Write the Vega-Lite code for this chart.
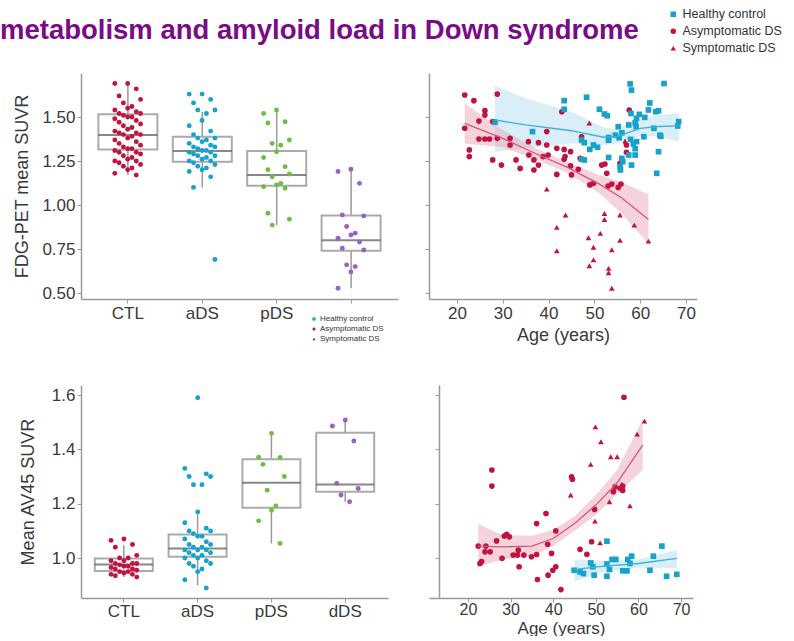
{
  "$schema": "https://vega.github.io/schema/vega-lite/v6.json",
  "background": "white",
  "padding": {"left": 0, "top": 8, "right": 0, "bottom": 0},
  "bounds": "flush",
  "columns": 2,
  "spacing": {"row": 86, "column": 31},
  "config": {
    "font": "Liberation Sans",
    "view": {"stroke": null},
    "axis": {"domainColor": "#9a9a9a", "domainWidth": 1.5, "tickColor": "#9a9a9a", "tickWidth": 1, "tickSize": 4, "grid": false, "labelColor": "#3a3a3a", "titleColor": "#3a3a3a", "labelFontSize": 17, "titleFontSize": 18, "titleFontWeight": "normal", "labelPadding": 2, "labelFont": "Liberation Sans", "titleFont": "Liberation Sans"},
    "legend": {"labelFont": "Liberation Sans", "labelColor": "#333333"}
  },
  "resolve": {
    "scale": {"color": "independent", "shape": "independent", "fill": "independent", "stroke": "independent", "x": "independent", "y": "independent"},
    "legend": {"color": "independent", "shape": "independent"}
  },
  "concat": [
    {
      "width": 317,
      "height": 226,
      "title": {"text": "metabolism and amyloid load in Down syndrome", "anchor": "start", "frame": "group", "dx": -81, "offset": 7, "baseline": "alphabetic", "fontSize": 27.5, "fontWeight": "bold", "color": "#7b0a86", "font": "Liberation Sans"},
      "layer": [
        {
          "data": {"name": "fb"},
          "mark": {"type": "rule", "color": "#9a9a9a", "strokeWidth": 1.5},
          "encoding": {
            "x": {"field": "g", "type": "nominal", "title": null, "scale": {"domain": ["CTL", "aDS", "pDS", "dDS"], "paddingInner": 0, "paddingOuter": 0.13}, "axis": {"labelAngle": 0, "labelExpr": "datum.value == 'dDS' ? '' : datum.value"}},
            "y": {"field": "lo", "type": "quantitative", "title": "FDG-PET mean SUVR", "scale": {"domain": [0.466, 1.75], "nice": false, "zero": false}, "axis": {"values": [0.5, 0.75, 1, 1.25, 1.5], "format": ".2f", "titlePadding": 10}},
            "y2": {"field": "hi"}
          }
        },
        {
          "data": {"name": "fb"},
          "mark": {"type": "bar", "width": 59, "fill": "white", "stroke": "#ababab", "strokeWidth": 2},
          "encoding": {
            "x": {"field": "g", "type": "nominal", "title": null},
            "y": {"field": "q1", "type": "quantitative", "title": "FDG-PET mean SUVR"},
            "y2": {"field": "q3"}
          }
        },
        {
          "data": {"name": "fb"},
          "mark": {"type": "tick", "color": "#555555", "thickness": 2, "size": 59},
          "encoding": {
            "x": {"field": "g", "type": "nominal", "title": null},
            "y": {"field": "md", "type": "quantitative", "title": "FDG-PET mean SUVR"}
          }
        },
        {
          "data": {"name": "fp"},
          "mark": {"type": "point", "filled": true, "size": 24, "opacity": 1},
          "encoding": {
            "x": {"field": "g", "type": "nominal", "title": null},
            "xOffset": {"field": "k", "type": "ordinal", "scale": {"range": [22, 52]}},
            "y": {"field": "v", "type": "quantitative", "title": "FDG-PET mean SUVR"},
            "color": {"field": "g", "type": "nominal", "scale": {"domain": ["CTL", "aDS", "pDS", "dDS"], "range": ["#c2123f", "#16a2cc", "#6fbe44", "#9a5fc2"]}, "legend": null}
          }
        }
      ]
    },
    {
      "width": 268,
      "height": 226,
      "layer": [
        {
          "data": {"name": "ff"},
          "mark": {"type": "area", "opacity": 0.5},
          "encoding": {
            "x": {"field": "age", "type": "quantitative", "title": "Age (years)", "scale": {"domain": [13.9, 72.4], "nice": false, "zero": false}, "axis": {"values": [20, 30, 40, 50, 60, 70], "titlePadding": 5}},
            "y": {"field": "lo", "type": "quantitative", "title": null, "scale": {"domain": [0.466, 1.75], "nice": false, "zero": false}, "axis": {"values": [0.5, 0.75, 1, 1.25, 1.5], "labels": false}},
            "y2": {"field": "hi"},
            "fill": {"field": "s", "type": "nominal", "scale": {"domain": ["HC", "A"], "range": ["#b3ddee", "#e9a7b9"]}, "legend": null}
          }
        },
        {
          "data": {"name": "fa"},
          "mark": {"type": "point", "filled": true, "size": 32, "opacity": 1},
          "encoding": {
            "x": {"field": "age", "type": "quantitative", "title": "Age (years)"},
            "y": {"field": "v", "type": "quantitative", "title": null},
            "color": {"field": "s", "type": "nominal", "scale": {"domain": ["HC", "A", "S"], "range": ["#16a2cc", "#c2123f", "#c2123f"]}, "legend": {"orient": "none", "legendX": 238, "legendY": -65, "title": null, "labelFontSize": 12.5, "symbolSize": 30, "rowPadding": 4, "labelOffset": 3, "padding": 0, "labelExpr": "datum.value == 'HC' ? 'Healthy control' : datum.value == 'A' ? 'Asymptomatic DS' : 'Symptomatic DS'"}},
            "shape": {"field": "s", "type": "nominal", "scale": {"domain": ["HC", "A", "S"], "range": ["square", "circle", "triangle-up"]}, "legend": {"orient": "none", "legendX": 238, "legendY": -65, "title": null, "labelFontSize": 12.5, "symbolSize": 30, "rowPadding": 4, "labelOffset": 3, "padding": 0, "labelExpr": "datum.value == 'HC' ? 'Healthy control' : datum.value == 'A' ? 'Asymptomatic DS' : 'Symptomatic DS'"}}
          }
        },
        {
          "data": {"name": "ff"},
          "mark": {"type": "line", "strokeWidth": 1.3},
          "encoding": {
            "x": {"field": "age", "type": "quantitative", "title": "Age (years)"},
            "y": {"field": "fit", "type": "quantitative", "title": null},
            "stroke": {"field": "s", "type": "nominal", "scale": {"domain": ["HC", "A"], "range": ["#3cb2d8", "#d4587a"]}, "legend": null}
          }
        }
      ]
    },
    {
      "width": 307,
      "height": 213,
      "layer": [
        {
          "data": {"name": "ab"},
          "mark": {"type": "rule", "color": "#9a9a9a", "strokeWidth": 1.5},
          "encoding": {
            "x": {"field": "g", "type": "nominal", "title": null, "scale": {"domain": ["CTL", "aDS", "pDS", "dDS"], "paddingInner": 0, "paddingOuter": 0.08}, "axis": {"labelAngle": 0, "labelPadding": 1}},
            "y": {"field": "lo", "type": "quantitative", "title": "Mean AV45 SUVR", "scale": {"domain": [0.853, 1.637], "nice": false, "zero": false}, "axis": {"values": [1.0, 1.2, 1.4, 1.6], "format": ".1f", "titlePadding": 14}},
            "y2": {"field": "hi"}
          }
        },
        {
          "data": {"name": "ab"},
          "mark": {"type": "bar", "width": 58, "fill": "white", "stroke": "#ababab", "strokeWidth": 2},
          "encoding": {
            "x": {"field": "g", "type": "nominal", "title": null},
            "y": {"field": "q1", "type": "quantitative", "title": "Mean AV45 SUVR"},
            "y2": {"field": "q3"}
          }
        },
        {
          "data": {"name": "ab"},
          "mark": {"type": "tick", "color": "#555555", "thickness": 2, "size": 58},
          "encoding": {
            "x": {"field": "g", "type": "nominal", "title": null},
            "y": {"field": "md", "type": "quantitative", "title": "Mean AV45 SUVR"}
          }
        },
        {
          "data": {"name": "ap"},
          "mark": {"type": "point", "filled": true, "size": 24, "opacity": 1},
          "encoding": {
            "x": {"field": "g", "type": "nominal", "title": null},
            "xOffset": {"field": "k", "type": "ordinal", "scale": {"range": [22, 52]}},
            "y": {"field": "v", "type": "quantitative", "title": "Mean AV45 SUVR"},
            "color": {"field": "g", "type": "nominal", "scale": {"domain": ["CTL", "aDS", "pDS", "dDS"], "range": ["#c2123f", "#16a2cc", "#6fbe44", "#9a5fc2"]}, "legend": null}
          }
        }
      ]
    },
    {
      "width": 264,
      "height": 213,
      "layer": [
        {
          "data": {"name": "af"},
          "mark": {"type": "area", "opacity": 0.5},
          "encoding": {
            "x": {"field": "age", "type": "quantitative", "title": "Age (years)", "scale": {"domain": [10.85, 72.8], "nice": false, "zero": false}, "axis": {"values": [20, 30, 40, 50, 60, 70], "labelFontSize": 16, "labelPadding": -1, "titlePadding": 3, "titleFontSize": 17}},
            "y": {"field": "lo", "type": "quantitative", "title": null, "scale": {"domain": [0.853, 1.637], "nice": false, "zero": false}, "axis": {"values": [1.0, 1.2, 1.4, 1.6], "labels": false, "offset": -10}},
            "y2": {"field": "hi"},
            "fill": {"field": "s", "type": "nominal", "scale": {"domain": ["HC", "A"], "range": ["#b3ddee", "#e9a7b9"]}, "legend": null}
          }
        },
        {
          "data": {"name": "aa"},
          "mark": {"type": "point", "filled": true, "size": 32, "opacity": 1},
          "encoding": {
            "x": {"field": "age", "type": "quantitative", "title": "Age (years)"},
            "y": {"field": "v", "type": "quantitative", "title": null},
            "color": {"field": "s", "type": "nominal", "scale": {"domain": ["HC", "A", "S"], "range": ["#16a2cc", "#c2123f", "#c2123f"]}, "legend": {"orient": "none", "legendX": -119, "legendY": -70, "title": null, "labelFontSize": 8, "symbolSize": 10, "rowPadding": 2, "labelOffset": 2, "padding": 0, "labelExpr": "datum.value == 'HC' ? 'Healthy control' : datum.value == 'A' ? 'Asymptomatic DS' : 'Symptomatic DS'"}},
            "shape": {"field": "s", "type": "nominal", "scale": {"domain": ["HC", "A", "S"], "range": ["square", "circle", "triangle-up"]}, "legend": {"orient": "none", "legendX": -119, "legendY": -70, "title": null, "labelFontSize": 8, "symbolSize": 10, "rowPadding": 2, "labelOffset": 2, "padding": 0, "labelExpr": "datum.value == 'HC' ? 'Healthy control' : datum.value == 'A' ? 'Asymptomatic DS' : 'Symptomatic DS'"}}
          }
        },
        {
          "data": {"name": "af"},
          "mark": {"type": "line", "strokeWidth": 1.3},
          "encoding": {
            "x": {"field": "age", "type": "quantitative", "title": "Age (years)"},
            "y": {"field": "fit", "type": "quantitative", "title": null},
            "stroke": {"field": "s", "type": "nominal", "scale": {"domain": ["HC", "A"], "range": ["#3cb2d8", "#d4587a"]}, "legend": null}
          }
        }
      ]
    }
  ],
  "datasets": {
    "fb": [
      {"g": "CTL", "lo": 1.17, "q1": 1.316, "md": 1.398, "q3": 1.515, "hi": 1.69},
      {"g": "aDS", "lo": 1.10, "q1": 1.246, "md": 1.307, "q3": 1.388, "hi": 1.53},
      {"g": "pDS", "lo": 0.886, "q1": 1.11, "md": 1.17, "q3": 1.307, "hi": 1.54},
      {"g": "dDS", "lo": 0.527, "q1": 0.74, "md": 0.80, "q3": 0.94, "hi": 1.20}
    ],
    "ab": [
      {"g": "CTL", "lo": 0.93, "q1": 0.952, "md": 0.976, "q3": 0.998, "hi": 1.047},
      {"g": "aDS", "lo": 0.90, "q1": 1.005, "md": 1.035, "q3": 1.087, "hi": 1.165},
      {"g": "pDS", "lo": 1.054, "q1": 1.185, "md": 1.277, "q3": 1.364, "hi": 1.459},
      {"g": "dDS", "lo": 1.207, "q1": 1.244, "md": 1.271, "q3": 1.461, "hi": 1.508}
    ],
    "fp": [
      {"g": "CTL", "v": 1.69, "k": 3}, {"g": "CTL", "v": 1.69, "k": 0}, {"g": "CTL", "v": 1.66, "k": 5}, {"g": "CTL", "v": 1.62, "k": 1}, {"g": "CTL", "v": 1.60, "k": 6}, {"g": "CTL", "v": 1.58, "k": 2}, {"g": "CTL", "v": 1.56, "k": 4},
      {"g": "CTL", "v": 1.55, "k": 3}, {"g": "CTL", "v": 1.54, "k": 0}, {"g": "CTL", "v": 1.53, "k": 5}, {"g": "CTL", "v": 1.52, "k": 1}, {"g": "CTL", "v": 1.52, "k": 6}, {"g": "CTL", "v": 1.51, "k": 2}, {"g": "CTL", "v": 1.50, "k": 4},
      {"g": "CTL", "v": 1.50, "k": 3}, {"g": "CTL", "v": 1.49, "k": 0}, {"g": "CTL", "v": 1.48, "k": 5}, {"g": "CTL", "v": 1.47, "k": 1}, {"g": "CTL", "v": 1.46, "k": 6}, {"g": "CTL", "v": 1.45, "k": 2}, {"g": "CTL", "v": 1.44, "k": 4},
      {"g": "CTL", "v": 1.43, "k": 3}, {"g": "CTL", "v": 1.42, "k": 0}, {"g": "CTL", "v": 1.41, "k": 5}, {"g": "CTL", "v": 1.41, "k": 1}, {"g": "CTL", "v": 1.40, "k": 6}, {"g": "CTL", "v": 1.40, "k": 2}, {"g": "CTL", "v": 1.39, "k": 4},
      {"g": "CTL", "v": 1.38, "k": 3}, {"g": "CTL", "v": 1.37, "k": 0}, {"g": "CTL", "v": 1.36, "k": 5}, {"g": "CTL", "v": 1.35, "k": 1}, {"g": "CTL", "v": 1.34, "k": 6}, {"g": "CTL", "v": 1.33, "k": 2}, {"g": "CTL", "v": 1.32, "k": 4},
      {"g": "CTL", "v": 1.32, "k": 3}, {"g": "CTL", "v": 1.31, "k": 0}, {"g": "CTL", "v": 1.30, "k": 5}, {"g": "CTL", "v": 1.30, "k": 1}, {"g": "CTL", "v": 1.29, "k": 6}, {"g": "CTL", "v": 1.28, "k": 2}, {"g": "CTL", "v": 1.27, "k": 4},
      {"g": "CTL", "v": 1.26, "k": 3}, {"g": "CTL", "v": 1.25, "k": 0}, {"g": "CTL", "v": 1.25, "k": 5}, {"g": "CTL", "v": 1.24, "k": 1}, {"g": "CTL", "v": 1.23, "k": 6}, {"g": "CTL", "v": 1.22, "k": 2}, {"g": "CTL", "v": 1.21, "k": 4},
      {"g": "CTL", "v": 1.20, "k": 3}, {"g": "CTL", "v": 1.18, "k": 0}, {"g": "CTL", "v": 1.17, "k": 5},
      {"g": "aDS", "v": 1.63, "k": 3}, {"g": "aDS", "v": 1.63, "k": 0}, {"g": "aDS", "v": 1.60, "k": 5}, {"g": "aDS", "v": 1.58, "k": 1}, {"g": "aDS", "v": 1.54, "k": 6}, {"g": "aDS", "v": 1.54, "k": 2}, {"g": "aDS", "v": 1.52, "k": 4},
      {"g": "aDS", "v": 1.48, "k": 3}, {"g": "aDS", "v": 1.45, "k": 0}, {"g": "aDS", "v": 1.42, "k": 5}, {"g": "aDS", "v": 1.40, "k": 1}, {"g": "aDS", "v": 1.38, "k": 6}, {"g": "aDS", "v": 1.38, "k": 2}, {"g": "aDS", "v": 1.37, "k": 4},
      {"g": "aDS", "v": 1.36, "k": 3}, {"g": "aDS", "v": 1.35, "k": 0}, {"g": "aDS", "v": 1.34, "k": 5}, {"g": "aDS", "v": 1.33, "k": 1}, {"g": "aDS", "v": 1.33, "k": 6}, {"g": "aDS", "v": 1.32, "k": 2}, {"g": "aDS", "v": 1.31, "k": 4},
      {"g": "aDS", "v": 1.31, "k": 3}, {"g": "aDS", "v": 1.30, "k": 0}, {"g": "aDS", "v": 1.30, "k": 5}, {"g": "aDS", "v": 1.29, "k": 1}, {"g": "aDS", "v": 1.28, "k": 6}, {"g": "aDS", "v": 1.28, "k": 2}, {"g": "aDS", "v": 1.27, "k": 4},
      {"g": "aDS", "v": 1.26, "k": 3}, {"g": "aDS", "v": 1.25, "k": 0}, {"g": "aDS", "v": 1.25, "k": 5}, {"g": "aDS", "v": 1.24, "k": 1}, {"g": "aDS", "v": 1.23, "k": 6}, {"g": "aDS", "v": 1.22, "k": 2}, {"g": "aDS", "v": 1.21, "k": 4},
      {"g": "aDS", "v": 1.20, "k": 3}, {"g": "aDS", "v": 1.19, "k": 0}, {"g": "aDS", "v": 1.16, "k": 5}, {"g": "aDS", "v": 1.10, "k": 1}, {"g": "aDS", "v": 0.69, "k": 6},
      {"g": "pDS", "v": 1.54, "k": 3}, {"g": "pDS", "v": 1.52, "k": 0}, {"g": "pDS", "v": 1.473, "k": 5}, {"g": "pDS", "v": 1.466, "k": 1}, {"g": "pDS", "v": 1.369, "k": 6}, {"g": "pDS", "v": 1.35, "k": 2}, {"g": "pDS", "v": 1.34, "k": 4},
      {"g": "pDS", "v": 1.303, "k": 3}, {"g": "pDS", "v": 1.27, "k": 0}, {"g": "pDS", "v": 1.218, "k": 5}, {"g": "pDS", "v": 1.20, "k": 1}, {"g": "pDS", "v": 1.176, "k": 6}, {"g": "pDS", "v": 1.16, "k": 2}, {"g": "pDS", "v": 1.123, "k": 4},
      {"g": "pDS", "v": 1.114, "k": 3}, {"g": "pDS", "v": 1.104, "k": 0}, {"g": "pDS", "v": 1.095, "k": 5}, {"g": "pDS", "v": 0.953, "k": 1}, {"g": "pDS", "v": 0.919, "k": 6}, {"g": "pDS", "v": 0.886, "k": 2},
      {"g": "dDS", "v": 1.203, "k": 3}, {"g": "dDS", "v": 1.19, "k": 0}, {"g": "dDS", "v": 1.123, "k": 5}, {"g": "dDS", "v": 0.943, "k": 1}, {"g": "dDS", "v": 0.938, "k": 6}, {"g": "dDS", "v": 0.878, "k": 2}, {"g": "dDS", "v": 0.84, "k": 4},
      {"g": "dDS", "v": 0.83, "k": 3}, {"g": "dDS", "v": 0.811, "k": 0}, {"g": "dDS", "v": 0.79, "k": 5}, {"g": "dDS", "v": 0.754, "k": 1}, {"g": "dDS", "v": 0.744, "k": 6}, {"g": "dDS", "v": 0.66, "k": 2}, {"g": "dDS", "v": 0.65, "k": 4},
      {"g": "dDS", "v": 0.62, "k": 3}, {"g": "dDS", "v": 0.527, "k": 0}
    ],
    "ap": [
      {"g": "CTL", "v": 1.07, "k": 3}, {"g": "CTL", "v": 1.065, "k": 0}, {"g": "CTL", "v": 1.05, "k": 5}, {"g": "CTL", "v": 1.04, "k": 1}, {"g": "CTL", "v": 1.01, "k": 6}, {"g": "CTL", "v": 1.00, "k": 2}, {"g": "CTL", "v": 1.00, "k": 4},
      {"g": "CTL", "v": 0.99, "k": 3}, {"g": "CTL", "v": 0.99, "k": 0}, {"g": "CTL", "v": 0.98, "k": 5}, {"g": "CTL", "v": 0.98, "k": 1}, {"g": "CTL", "v": 0.98, "k": 6}, {"g": "CTL", "v": 0.975, "k": 2}, {"g": "CTL", "v": 0.97, "k": 4},
      {"g": "CTL", "v": 0.97, "k": 3}, {"g": "CTL", "v": 0.965, "k": 0}, {"g": "CTL", "v": 0.96, "k": 5}, {"g": "CTL", "v": 0.96, "k": 1}, {"g": "CTL", "v": 0.955, "k": 6}, {"g": "CTL", "v": 0.95, "k": 2}, {"g": "CTL", "v": 0.95, "k": 4},
      {"g": "CTL", "v": 0.945, "k": 3}, {"g": "CTL", "v": 0.94, "k": 0}, {"g": "CTL", "v": 0.94, "k": 5}, {"g": "CTL", "v": 0.935, "k": 1}, {"g": "CTL", "v": 0.93, "k": 6},
      {"g": "aDS", "v": 1.59, "k": 3}, {"g": "aDS", "v": 1.33, "k": 0}, {"g": "aDS", "v": 1.31, "k": 5}, {"g": "aDS", "v": 1.30, "k": 1}, {"g": "aDS", "v": 1.30, "k": 6}, {"g": "aDS", "v": 1.27, "k": 2}, {"g": "aDS", "v": 1.27, "k": 4},
      {"g": "aDS", "v": 1.17, "k": 3}, {"g": "aDS", "v": 1.13, "k": 0}, {"g": "aDS", "v": 1.11, "k": 5}, {"g": "aDS", "v": 1.10, "k": 1}, {"g": "aDS", "v": 1.10, "k": 6}, {"g": "aDS", "v": 1.09, "k": 2}, {"g": "aDS", "v": 1.08, "k": 4},
      {"g": "aDS", "v": 1.08, "k": 3}, {"g": "aDS", "v": 1.07, "k": 0}, {"g": "aDS", "v": 1.06, "k": 5}, {"g": "aDS", "v": 1.05, "k": 1}, {"g": "aDS", "v": 1.05, "k": 6}, {"g": "aDS", "v": 1.04, "k": 2}, {"g": "aDS", "v": 1.04, "k": 4},
      {"g": "aDS", "v": 1.03, "k": 3}, {"g": "aDS", "v": 1.03, "k": 0}, {"g": "aDS", "v": 1.03, "k": 5}, {"g": "aDS", "v": 1.02, "k": 1}, {"g": "aDS", "v": 1.02, "k": 6}, {"g": "aDS", "v": 1.01, "k": 2}, {"g": "aDS", "v": 1.01, "k": 4},
      {"g": "aDS", "v": 1.00, "k": 3}, {"g": "aDS", "v": 1.00, "k": 0}, {"g": "aDS", "v": 0.99, "k": 5}, {"g": "aDS", "v": 0.98, "k": 1}, {"g": "aDS", "v": 0.98, "k": 6}, {"g": "aDS", "v": 0.97, "k": 2}, {"g": "aDS", "v": 0.96, "k": 4},
      {"g": "aDS", "v": 0.95, "k": 3}, {"g": "aDS", "v": 0.92, "k": 0}, {"g": "aDS", "v": 0.89, "k": 5},
      {"g": "pDS", "v": 1.459, "k": 3}, {"g": "pDS", "v": 1.371, "k": 0}, {"g": "pDS", "v": 1.37, "k": 5}, {"g": "pDS", "v": 1.345, "k": 1}, {"g": "pDS", "v": 1.30, "k": 6}, {"g": "pDS", "v": 1.25, "k": 2}, {"g": "pDS", "v": 1.192, "k": 4},
      {"g": "pDS", "v": 1.176, "k": 3}, {"g": "pDS", "v": 1.137, "k": 0}, {"g": "pDS", "v": 1.054, "k": 5},
      {"g": "dDS", "v": 1.508, "k": 3}, {"g": "dDS", "v": 1.486, "k": 0}, {"g": "dDS", "v": 1.431, "k": 5}, {"g": "dDS", "v": 1.275, "k": 1}, {"g": "dDS", "v": 1.256, "k": 6}, {"g": "dDS", "v": 1.232, "k": 2}, {"g": "dDS", "v": 1.207, "k": 4}
    ],
    "fa": [
      {"s": "A", "age": 21.7, "v": 1.625}, {"s": "A", "age": 23.7, "v": 1.593}, {"s": "A", "age": 28.8, "v": 1.63}, {"s": "A", "age": 26.1, "v": 1.536}, {"s": "A", "age": 26.1, "v": 1.511}, {"s": "A", "age": 24.8, "v": 1.477}, {"s": "A", "age": 21.7, "v": 1.436}, {"s": "A", "age": 24.8, "v": 1.375}, {"s": "A", "age": 26.1, "v": 1.375}, {"s": "A", "age": 27.1, "v": 1.375},
      {"s": "A", "age": 22.7, "v": 1.313}, {"s": "A", "age": 22.7, "v": 1.275}, {"s": "A", "age": 27.8, "v": 1.474}, {"s": "A", "age": 27.8, "v": 1.256}, {"s": "A", "age": 28.8, "v": 1.379}, {"s": "A", "age": 29.7, "v": 1.227}, {"s": "A", "age": 31.6, "v": 1.379}, {"s": "A", "age": 31.6, "v": 1.341}, {"s": "A", "age": 32.9, "v": 1.256}, {"s": "A", "age": 33.8, "v": 1.208},
      {"s": "A", "age": 35.6, "v": 1.36}, {"s": "A", "age": 35.7, "v": 1.284}, {"s": "A", "age": 36.8, "v": 1.256}, {"s": "A", "age": 36.8, "v": 1.199}, {"s": "A", "age": 37.8, "v": 1.354}, {"s": "A", "age": 37.8, "v": 1.227}, {"s": "A", "age": 38.8, "v": 1.275}, {"s": "A", "age": 39.6, "v": 1.417}, {"s": "A", "age": 39.6, "v": 1.341}, {"s": "A", "age": 39.9, "v": 1.284},
      {"s": "A", "age": 41.8, "v": 1.322}, {"s": "A", "age": 41.8, "v": 1.174}, {"s": "A", "age": 42.9, "v": 1.53}, {"s": "A", "age": 43.4, "v": 1.316}, {"s": "A", "age": 43.6, "v": 1.275}, {"s": "A", "age": 43.4, "v": 1.26}, {"s": "A", "age": 44.8, "v": 1.303}, {"s": "A", "age": 44.8, "v": 1.222}, {"s": "A", "age": 45, "v": 1.171}, {"s": "A", "age": 46.5, "v": 1.203},
      {"s": "A", "age": 47.2, "v": 1.388}, {"s": "A", "age": 46.9, "v": 1.265}, {"s": "A", "age": 49, "v": 1.114}, {"s": "A", "age": 49.8, "v": 1.123}, {"s": "A", "age": 51.6, "v": 1.227}, {"s": "A", "age": 52.3, "v": 1.233}, {"s": "A", "age": 52.7, "v": 1.18}, {"s": "A", "age": 53, "v": 1.108}, {"s": "A", "age": 53.8, "v": 1.119}, {"s": "A", "age": 55.6, "v": 1.237},
      {"s": "A", "age": 55.8, "v": 1.119}, {"s": "A", "age": 57.6, "v": 1.54}, {"s": "A", "age": 57, "v": 1.30}, {"s": "A", "age": 57, "v": 1.341}, {"s": "A", "age": 55.2, "v": 1.10},
      {"s": "S", "age": 48.9, "v": 1.466}, {"s": "S", "age": 39.6, "v": 1.09}, {"s": "S", "age": 43.7, "v": 0.943}, {"s": "S", "age": 41.8, "v": 0.873}, {"s": "S", "age": 41.8, "v": 0.74}, {"s": "S", "age": 48.7, "v": 0.814}, {"s": "S", "age": 49.8, "v": 0.76}, {"s": "S", "age": 49.8, "v": 0.688}, {"s": "S", "age": 48.9, "v": 0.655}, {"s": "S", "age": 51.3, "v": 0.839},
      {"s": "S", "age": 52.2, "v": 0.952}, {"s": "S", "age": 52.2, "v": 0.918}, {"s": "S", "age": 53.1, "v": 0.64}, {"s": "S", "age": 53.1, "v": 0.615}, {"s": "S", "age": 53.8, "v": 0.746}, {"s": "S", "age": 55.6, "v": 0.943}, {"s": "S", "age": 55.6, "v": 0.80}, {"s": "S", "age": 58.7, "v": 0.886}, {"s": "S", "age": 53.8, "v": 0.527}, {"s": "S", "age": 61.8, "v": 0.795},
      {"s": "S", "age": 56.7, "v": 1.364}, {"s": "S", "age": 49.7, "v": 1.34},
      {"s": "HC", "age": 43.4, "v": 1.593}, {"s": "HC", "age": 43.4, "v": 1.544}, {"s": "HC", "age": 48.3, "v": 1.612}, {"s": "HC", "age": 51.1, "v": 1.544}, {"s": "HC", "age": 52.2, "v": 1.517}, {"s": "HC", "age": 52.8, "v": 1.507}, {"s": "HC", "age": 57.8, "v": 1.688}, {"s": "HC", "age": 58.1, "v": 1.653}, {"s": "HC", "age": 65.2, "v": 1.69}, {"s": "HC", "age": 62.1, "v": 1.58},
      {"s": "HC", "age": 63.4, "v": 1.53}, {"s": "HC", "age": 61.8, "v": 1.54}, {"s": "HC", "age": 64, "v": 1.535}, {"s": "HC", "age": 59.8, "v": 1.515}, {"s": "HC", "age": 59.2, "v": 1.493}, {"s": "HC", "age": 58, "v": 1.52}, {"s": "HC", "age": 58.9, "v": 1.468}, {"s": "HC", "age": 61, "v": 1.498}, {"s": "HC", "age": 59.1, "v": 1.445}, {"s": "HC", "age": 63, "v": 1.436},
      {"s": "HC", "age": 57.5, "v": 1.455}, {"s": "HC", "age": 55.2, "v": 1.445}, {"s": "HC", "age": 56, "v": 1.41}, {"s": "HC", "age": 55.4, "v": 1.382}, {"s": "HC", "age": 54.6, "v": 1.397}, {"s": "HC", "age": 53.1, "v": 1.384}, {"s": "HC", "age": 53.1, "v": 1.368}, {"s": "HC", "age": 60.8, "v": 1.388}, {"s": "HC", "age": 64.3, "v": 1.397}, {"s": "HC", "age": 68.4, "v": 1.474},
      {"s": "HC", "age": 68.2, "v": 1.449}, {"s": "HC", "age": 36.5, "v": 1.417}, {"s": "HC", "age": 28.3, "v": 1.47}, {"s": "HC", "age": 47.2, "v": 1.369}, {"s": "HC", "age": 47.8, "v": 1.354}, {"s": "HC", "age": 49, "v": 1.316}, {"s": "HC", "age": 49.8, "v": 1.341}, {"s": "HC", "age": 50.7, "v": 1.328}, {"s": "HC", "age": 47.2, "v": 1.26}, {"s": "HC", "age": 47.8, "v": 1.256},
      {"s": "HC", "age": 53.1, "v": 1.27}, {"s": "HC", "age": 56, "v": 1.265}, {"s": "HC", "age": 56.2, "v": 1.246}, {"s": "HC", "age": 55.6, "v": 1.218}, {"s": "HC", "age": 55.7, "v": 1.199}, {"s": "HC", "age": 57.5, "v": 1.284}, {"s": "HC", "age": 58.5, "v": 1.347}, {"s": "HC", "age": 58.9, "v": 1.32}, {"s": "HC", "age": 58.9, "v": 1.284}, {"s": "HC", "age": 59.2, "v": 1.36},
      {"s": "HC", "age": 58.1, "v": 1.227}, {"s": "HC", "age": 64, "v": 1.303}, {"s": "HC", "age": 63.6, "v": 1.18}, {"s": "HC", "age": 64.5, "v": 1.39}, {"s": "HC", "age": 57.9, "v": 1.373}
    ],
    "ff": [
      {"s": "HC", "age": 28.3, "fit": 1.483, "lo": 1.303, "hi": 1.676},
      {"s": "HC", "age": 35, "fit": 1.455, "lo": 1.322, "hi": 1.606},
      {"s": "HC", "age": 45, "fit": 1.422, "lo": 1.35, "hi": 1.53},
      {"s": "HC", "age": 52, "fit": 1.385, "lo": 1.34, "hi": 1.44},
      {"s": "HC", "age": 55, "fit": 1.39, "lo": 1.35, "hi": 1.43},
      {"s": "HC", "age": 60, "fit": 1.436, "lo": 1.39, "hi": 1.49},
      {"s": "HC", "age": 64, "fit": 1.446, "lo": 1.39, "hi": 1.51},
      {"s": "HC", "age": 68.4, "fit": 1.45, "lo": 1.36, "hi": 1.521},
      {"s": "A", "age": 21.7, "fit": 1.464, "lo": 1.35, "hi": 1.578},
      {"s": "A", "age": 30, "fit": 1.379, "lo": 1.328, "hi": 1.426},
      {"s": "A", "age": 37, "fit": 1.294, "lo": 1.262, "hi": 1.326},
      {"s": "A", "age": 44, "fit": 1.215, "lo": 1.185, "hi": 1.245},
      {"s": "A", "age": 51, "fit": 1.12, "lo": 1.07, "hi": 1.17},
      {"s": "A", "age": 56, "fit": 1.04, "lo": 0.95, "hi": 1.13},
      {"s": "A", "age": 61.8, "fit": 0.918, "lo": 0.78, "hi": 1.06}
    ],
    "aa": [
      {"s": "A", "age": 22.4, "v": 1.044}, {"s": "A", "age": 24.2, "v": 1.044}, {"s": "A", "age": 24, "v": 1.023}, {"s": "A", "age": 25.2, "v": 1.023}, {"s": "A", "age": 22.8, "v": 0.98}, {"s": "A", "age": 23.2, "v": 0.987}, {"s": "A", "age": 25.6, "v": 1.324}, {"s": "A", "age": 25.6, "v": 1.265}, {"s": "A", "age": 26.7, "v": 1.063}, {"s": "A", "age": 28, "v": 0.999},
      {"s": "A", "age": 28.5, "v": 1.081}, {"s": "A", "age": 29.1, "v": 1.087}, {"s": "A", "age": 29.7, "v": 1.078}, {"s": "A", "age": 30.6, "v": 1.011}, {"s": "A", "age": 31.6, "v": 1.011}, {"s": "A", "age": 31.8, "v": 1.029}, {"s": "A", "age": 32, "v": 0.968}, {"s": "A", "age": 33.1, "v": 1.011}, {"s": "A", "age": 34.9, "v": 1.005}, {"s": "A", "age": 36.1, "v": 1.013},
      {"s": "A", "age": 36.1, "v": 1.127}, {"s": "A", "age": 36.3, "v": 0.921}, {"s": "A", "age": 38.3, "v": 1.164}, {"s": "A", "age": 38.7, "v": 1.051}, {"s": "A", "age": 38.8, "v": 0.937}, {"s": "A", "age": 39.6, "v": 1.017}, {"s": "A", "age": 39.9, "v": 0.955}, {"s": "A", "age": 40.6, "v": 0.968}, {"s": "A", "age": 40.6, "v": 1.10}, {"s": "A", "age": 41.8, "v": 0.884},
      {"s": "A", "age": 44.3, "v": 1.299}, {"s": "A", "age": 44.5, "v": 1.29}, {"s": "A", "age": 46.3, "v": 1.032}, {"s": "A", "age": 47.9, "v": 1.014}, {"s": "A", "age": 49, "v": 1.06}, {"s": "A", "age": 49.7, "v": 1.179}, {"s": "A", "age": 54.1, "v": 1.244}, {"s": "A", "age": 54.5, "v": 1.262}, {"s": "A", "age": 55.7, "v": 1.257}, {"s": "A", "age": 56.3, "v": 1.265},
      {"s": "A", "age": 56.6, "v": 1.592}, {"s": "A", "age": 56.3, "v": 1.249},
      {"s": "S", "age": 49.9, "v": 1.483}, {"s": "S", "age": 51.2, "v": 1.428}, {"s": "S", "age": 48.8, "v": 1.345}, {"s": "S", "age": 53.5, "v": 1.373}, {"s": "S", "age": 55, "v": 1.373}, {"s": "S", "age": 44.1, "v": 1.232}, {"s": "S", "age": 49.8, "v": 1.136}, {"s": "S", "age": 51, "v": 1.056}, {"s": "S", "age": 53.2, "v": 1.207}, {"s": "S", "age": 56.1, "v": 1.272},
      {"s": "S", "age": 58, "v": 1.192}, {"s": "S", "age": 59.7, "v": 1.456}, {"s": "S", "age": 61.4, "v": 1.504},
      {"s": "HC", "age": 44.9, "v": 0.955}, {"s": "HC", "age": 46.3, "v": 0.949}, {"s": "HC", "age": 47.1, "v": 0.943}, {"s": "HC", "age": 48.8, "v": 0.982}, {"s": "HC", "age": 49.3, "v": 0.968}, {"s": "HC", "age": 49.6, "v": 0.937}, {"s": "HC", "age": 52.6, "v": 1.062}, {"s": "HC", "age": 52.6, "v": 0.978}, {"s": "HC", "age": 52.6, "v": 0.933}, {"s": "HC", "age": 53.2, "v": 0.958},
      {"s": "HC", "age": 53.8, "v": 0.995}, {"s": "HC", "age": 54.7, "v": 0.995}, {"s": "HC", "age": 56.3, "v": 0.953}, {"s": "HC", "age": 57.3, "v": 0.953}, {"s": "HC", "age": 57.5, "v": 0.995}, {"s": "HC", "age": 58, "v": 0.98}, {"s": "HC", "age": 58.4, "v": 1.007}, {"s": "HC", "age": 62.7, "v": 0.955}, {"s": "HC", "age": 63.5, "v": 1.007}, {"s": "HC", "age": 65.5, "v": 1.044},
      {"s": "HC", "age": 66.6, "v": 0.933}, {"s": "HC", "age": 69, "v": 0.94}
    ],
    "af": [
      {"s": "A", "age": 22.4, "fit": 1.044, "lo": 0.968, "hi": 1.125},
      {"s": "A", "age": 28, "fit": 1.041, "lo": 0.995, "hi": 1.084},
      {"s": "A", "age": 35, "fit": 1.044, "lo": 1.005, "hi": 1.082},
      {"s": "A", "age": 40, "fit": 1.072, "lo": 1.044, "hi": 1.103},
      {"s": "A", "age": 45, "fit": 1.127, "lo": 1.10, "hi": 1.154},
      {"s": "A", "age": 50, "fit": 1.195, "lo": 1.159, "hi": 1.232},
      {"s": "A", "age": 55, "fit": 1.277, "lo": 1.236, "hi": 1.324},
      {"s": "A", "age": 61, "fit": 1.416, "lo": 1.324, "hi": 1.51},
      {"s": "HC", "age": 45, "fit": 0.958, "lo": 0.915, "hi": 0.995},
      {"s": "HC", "age": 52, "fit": 0.97, "lo": 0.95, "hi": 0.99},
      {"s": "HC", "age": 60, "fit": 0.98, "lo": 0.965, "hi": 0.995},
      {"s": "HC", "age": 69, "fit": 0.999, "lo": 0.962, "hi": 1.03}
    ]
  }
}
